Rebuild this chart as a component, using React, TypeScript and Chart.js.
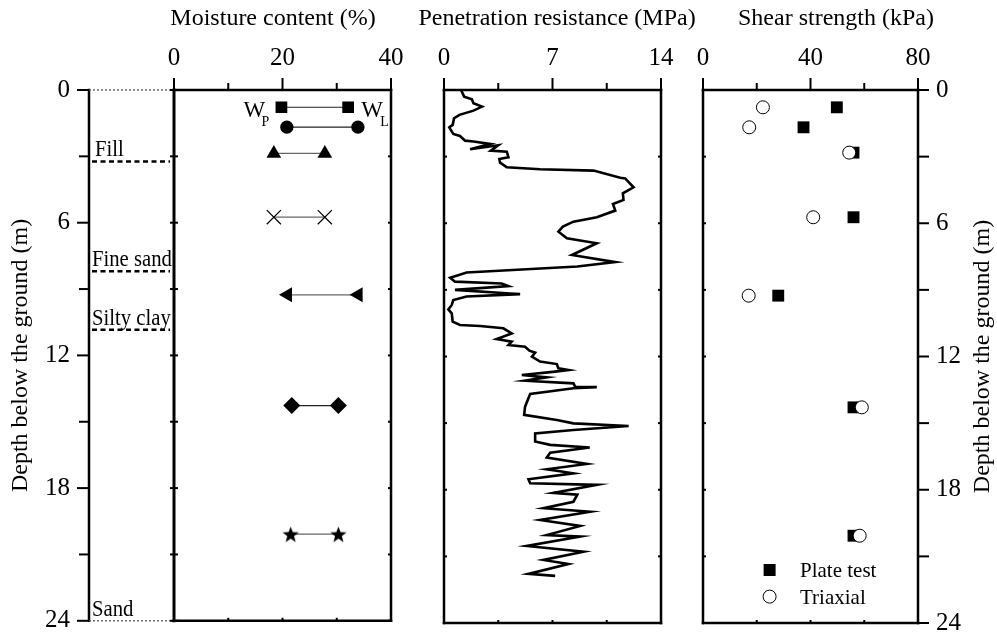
import React, { useEffect, useRef } from 'react';
import { Chart, registerables } from 'chart.js';
Chart.register(...registerables);

const SERIF = "'Liberation Serif', 'Times New Roman', Times, serif";
const W = 997;
const H = 632;

// ---------------- depth axis ----------------
const depthLabels = [0, 6, 12, 18, 24];
const depthMinorTicks = [0, 3, 6, 9, 12, 15, 18, 21, 24];

// ---------------- soil column ----------------
const soilNames = ['Fill', 'Fine sand', 'Silty clay', 'Sand'];
const soilBottoms = [3.23, 8.2, 10.84, 24];

// ---------------- moisture content (%) ----------------
const moistureTicks = [0, 10, 20, 30, 40];
const moistureLabels = [0, 20, 40];
const moistureDepths = [0.78, 1.68, 2.87, 5.75, 9.26, 14.27, 20.08];
const plasticLimit = [19.8, 20.8, 18.4, 18.4, 20.95, 21.7, 21.5];
const liquidLimit = [32.1, 33.9, 27.8, 27.8, 33.97, 30.3, 30.3];

// ---------------- penetration resistance (MPa) ----------------
const penTicks = [0, 3.5, 7, 10.5, 14];
const penLabels = [0, 7, 14];
const penValue = [
  1.1, 1.3, 1.8, 1.9, 2.45, 1.9, 1.0, 0.65, 0.56, 0.34, 0.6, 1.03, 1.36, 1.9, 2.97, 1.68, 3.5, 3.02,
  4.05, 4.16, 3.57, 3.62, 4.05, 6.2, 9.65, 11.37, 11.69, 12.23, 11.54, 11.58, 10.9, 11.05, 9.86, 8.35,
  7.67, 7.38, 7.93, 9.86, 8.25, 11.05, 8.6, 1.46, 0.4, 0.71, 3.72, 4.16, 0.71, 4.26, 4.91, 1.46, 0.6,
  0.5, 0.28, 0.5, 0.56, 1.03, 2.33, 3.83, 4.37, 3.4, 4.37, 4.16, 5.23, 5.51, 5.88, 5.67, 6.2, 7.28,
  7.38, 8.03, 7.17, 5.02, 6.63, 5.23, 8.35, 8.46, 9.86, 8.35, 5.56, 5.23, 5.17, 7.28, 8.35, 11.91,
  8.35, 5.88, 5.88, 6.85, 9.4, 6.85, 6.63, 9.22, 6.63, 8.35, 5.45, 5.56, 9.86, 7.06, 8.6, 8.35, 6.42,
  9.43, 6.2, 8.79, 6.63, 8.79, 5.34, 9.0, 6.42, 8.03, 5.45, 7.17,
];
const penDepth = [
  0, 0.3, 0.42, 0.6, 0.75, 0.93, 1.12, 1.27, 1.57, 1.68, 1.98, 2.07, 2.28, 2.32, 2.43, 2.67, 2.49, 2.73,
  2.78, 3.03, 3.11, 3.27, 3.48, 3.57, 3.63, 3.95, 3.98, 4.38, 4.65, 4.95, 5.13, 5.43, 5.73, 5.93,
  6.15, 6.38, 6.68, 6.9, 7.43, 7.75, 7.95, 8.22, 8.45, 8.63, 8.71, 8.83, 9.0, 9.16, 9.19, 9.3, 9.46,
  9.68, 9.88, 10.06, 10.43, 10.58, 10.63, 10.73, 10.96, 11.21, 11.33, 11.48, 11.56, 11.74, 11.83, 12.01, 12.23, 12.34,
  12.53, 12.61, 12.68, 12.83, 12.94, 13.09, 13.21, 13.36, 13.38, 13.43, 13.69, 14.26, 14.63, 14.86, 15.01, 15.13,
  15.31, 15.46, 15.83, 15.98, 16.1, 16.33, 16.55, 16.84, 17.08, 17.26, 17.53, 17.71, 17.78, 18.14, 18.22, 18.54, 18.83,
  18.99, 19.36, 19.63, 20.04, 20.11, 20.53, 20.79, 21.16, 21.34, 21.79, 21.88,
];

// ---------------- shear strength (kPa) ----------------
const shearTicks = [0, 20, 40, 60, 80];
const shearLabels = [0, 40, 80];
const shearDepths = [0.78, 1.68, 2.82, 5.73, 9.26, 14.29, 20.07];
const plateTest = [49.8, 37.4, 56.0, 56.0, 28.0, 56.0, 56.0];
const triaxial = [22.3, 17.2, 54.4, 41.0, 17.0, 59.1, 58.3];

// ---------------- styles (not data) ----------------
function makeStar(r: number) {
  const c = document.createElement('canvas');
  const s = Math.ceil(r * 2 + 2);
  c.width = s;
  c.height = s;
  const g = c.getContext('2d')!;
  g.fillStyle = '#000';
  g.beginPath();
  for (let i = 0; i < 10; i++) {
    const rr = i % 2 === 0 ? r : r * 0.42;
    const ang = -Math.PI / 2 + (i * Math.PI) / 5;
    const x = s / 2 + rr * Math.cos(ang);
    const y = s / 2 + 1 + rr * Math.sin(ang);
    if (i === 0) g.moveTo(x, y);
    else g.lineTo(x, y);
  }
  g.closePath();
  g.fill();
  return c;
}

function rowStyle(i: number): any {
  switch (i) {
    case 0: return { pointStyle: 'rect', pointRadius: 8.3, line: '#222' };
    case 1: return { pointStyle: 'circle', pointRadius: 6.6, line: '#222' };
    case 2: return { pointStyle: 'triangle', pointRadius: 8.5, line: '#666' };
    case 3: return { pointStyle: 'crossRot', pointRadius: 10, line: '#666', hollow: true };
    case 4: return { pointStyle: 'triangle', pointRadius: 8.7, rotation: -90, line: '#666' };
    case 5: return { pointStyle: 'rectRot', pointRadius: 8.5, line: '#222' };
    default: return { pointStyle: makeStar(8.5), pointRadius: 8.5, line: '#666' };
  }
}

const tickFont = { family: SERIF, size: 25 };

function seg(ctx: CanvasRenderingContext2D, x1: number, y1: number, x2: number, y2: number) {
  ctx.beginPath();
  ctx.moveTo(x1, y1);
  ctx.lineTo(x2, y2);
  ctx.stroke();
}

// frame, ticks and title of one panel
const framePlugin = {
  id: 'frame',
  afterDraw(chart: any, _a: any, o: any) {
    const { ctx, chartArea: a } = chart;
    const xs = chart.scales.x;
    const ys = chart.scales.y;
    ctx.save();
    ctx.strokeStyle = '#000';
    ctx.fillStyle = '#000';
    ctx.lineCap = 'square';
    const solid = o.zeroLine ? xs.getPixelForValue(0) : a.left;
    ctx.lineWidth = 2.5;
    seg(ctx, solid, a.top, a.right, a.top);
    seg(ctx, solid, a.bottom, a.right, a.bottom);
    seg(ctx, a.left, a.top, a.left, a.bottom);
    seg(ctx, a.right, a.top, a.right, a.bottom);
    if (o.zeroLine) {
      ctx.lineWidth = 3;
      seg(ctx, solid, a.top, solid, a.bottom);
      ctx.save();
      ctx.lineCap = 'butt';
      ctx.lineWidth = 1.3;
      ctx.strokeStyle = '#555';
      ctx.setLineDash([2, 2]);
      seg(ctx, a.left, a.top, solid, a.top);
      seg(ctx, a.left, a.bottom, solid, a.bottom);
      ctx.restore();
    }
    ctx.lineCap = 'butt';
    ctx.lineWidth = 2;
    o.xTicks.forEach((v: number, i: number) => {
      const px = xs.getPixelForValue(v);
      const len = o.xMajor.includes(v) ? 12 : 7;
      seg(ctx, px, a.top, px, a.top - len);
      if (i > 0 && i < o.xTicks.length - 1) seg(ctx, px, a.bottom, px, a.bottom - 3);
    });
    depthMinorTicks.forEach((d) => {
      const py = ys.getPixelForValue(d);
      const major = depthLabels.includes(d);
      if (o.yOut === 'left') seg(ctx, a.left, py, a.left - (major ? 12 : 10), py);
      else seg(ctx, a.left, py, a.left + 3, py);
      if (o.yOut === 'right') seg(ctx, a.right, py, a.right + 11, py);
      else seg(ctx, a.right, py, a.right - 3, py);
      if (o.zeroLine) seg(ctx, solid - 4, py, solid + 4, py);
    });
    ctx.font = `24px ${SERIF}`;
    ctx.textAlign = 'center';
    ctx.textBaseline = 'middle';
    ctx.fillText(o.title, o.titleX, 19);
    ctx.restore();
  },
};

const soilPlugin = {
  id: 'soil',
  afterDraw(chart: any) {
    const { ctx, chartArea: a } = chart;
    const xs = chart.scales.x;
    const ys = chart.scales.y;
    const zx = xs.getPixelForValue(0);
    ctx.save();
    ctx.fillStyle = '#000';
    ctx.strokeStyle = '#000';
    soilNames.forEach((name, i) => {
      const py = ys.getPixelForValue(soilBottoms[i]);
      if (i < soilNames.length - 1) {
        ctx.save();
        ctx.lineWidth = 2.5;
        ctx.setLineDash([5, 3.5]);
        seg(ctx, a.left + 3, py, zx - 4, py);
        ctx.restore();
      }
      ctx.save();
      ctx.font = `23px ${SERIF}`;
      ctx.textAlign = 'left';
      ctx.textBaseline = 'alphabetic';
      ctx.translate(a.left + (i === 0 ? 6 : 3), py - 5);
      ctx.scale(0.9, 1);
      ctx.fillText(name, 0, 0);
      ctx.restore();
    });
    // W_P and W_L labels next to the first row
    const py = ys.getPixelForValue(moistureDepths[0]);
    const pP = xs.getPixelForValue(plasticLimit[0]);
    const pL = xs.getPixelForValue(liquidLimit[0]);
    ctx.textAlign = 'left';
    ctx.textBaseline = 'alphabetic';
    ctx.font = `23px ${SERIF}`;
    ctx.fillText('W', pP - 38, py + 9.4);
    ctx.fillText('W', pL + 13, py + 9.4);
    ctx.font = `14px ${SERIF}`;
    ctx.fillText('P', pP - 20, py + 18.4);
    ctx.fillText('L', pL + 32, py + 18.4);
    ctx.restore();
  },
};

const shearExtras = {
  id: 'shearExtras',
  afterDraw(chart: any) {
    const { ctx, chartArea: a } = chart;
    ctx.save();
    ctx.fillStyle = '#000';
    ctx.strokeStyle = '#000';
    const mx = a.left + 66.6;
    const y1 = a.bottom - 53;
    const y2 = a.bottom - 26.4;
    ctx.fillRect(mx - 6, y1 - 6, 12, 12);
    ctx.lineWidth = 1;
    ctx.beginPath();
    ctx.arc(mx, y2, 6.5, 0, Math.PI * 2);
    ctx.stroke();
    ctx.font = `21px ${SERIF}`;
    ctx.textAlign = 'left';
    ctx.textBaseline = 'alphabetic';
    ctx.fillText('Plate test', a.left + 97, y1 + 7);
    ctx.fillText('Triaxial', a.left + 97, y2 + 7);
    // right axis title (reads bottom to top)
    ctx.save();
    ctx.translate(983, (a.top + a.bottom) / 2);
    ctx.rotate(-Math.PI / 2);
    ctx.font = `24px ${SERIF}`;
    ctx.textAlign = 'center';
    ctx.textBaseline = 'middle';
    ctx.fillText('Depth below the ground (m)', 0, 0);
    ctx.restore();
    ctx.restore();
  },
};

function xAxis(min: number, max: number, ticks: number[], labels: number[]) {
  return {
    type: 'linear',
    position: 'top',
    min,
    max,
    afterBuildTicks: (s: any) => {
      s.ticks = ticks.map((v) => ({ value: v }));
    },
    afterFit: (s: any) => {
      s.height = 90;
      s.paddingLeft = 0;
      s.paddingRight = 0;
    },
    grid: { display: false, drawTicks: false },
    border: { display: false },
    ticks: {
      font: tickFont,
      color: '#000',
      padding: 17,
      maxRotation: 0,
      autoSkip: false,
      callback: (v: any) => (labels.includes(Number(v)) ? String(v) : ''),
    },
  };
}

function depthAxis(extra: any) {
  return {
    type: 'linear',
    reverse: true,
    min: 0,
    max: 24,
    grid: { display: false, drawTicks: false },
    border: { display: false },
    ...extra,
  };
}

const baseOptions = (padding: any) => ({
  animation: false,
  responsive: false,
  maintainAspectRatio: false,
  events: [],
  layout: { padding },
  plugins: { legend: { display: false }, tooltip: { enabled: false } },
});

function fitDepth(width: number) {
  return (s: any) => {
    s.width = width;
    s.paddingTop = 0;
    s.paddingBottom = 0;
  };
}

function moistureConfig(): any {
  const datasets = moistureDepths.map((d, i) => {
    const st = rowStyle(i);
    return {
      data: [
        { x: plasticLimit[i], y: d },
        { x: liquidLimit[i], y: d },
      ],
      showLine: true,
      borderColor: st.line,
      borderWidth: 1.2,
      pointStyle: st.pointStyle,
      pointRadius: st.pointRadius,
      pointRotation: st.rotation || 0,
      pointBackgroundColor: st.hollow ? 'rgba(0,0,0,0)' : '#000',
      pointBorderColor: '#000',
      pointBorderWidth: st.hollow ? 1.2 : 0,
    };
  });
  const o: any = baseOptions({ left: 0, right: W - 391, top: 0, bottom: H - 623 });
  o.scales = {
    x: xAxis(-15.67, 40, moistureTicks, moistureLabels),
    y: depthAxis({
      position: 'left',
      afterFit: fitDepth(89),
      afterBuildTicks: (s: any) => {
        s.ticks = depthLabels.map((v) => ({ value: v }));
      },
      ticks: { font: tickFont, color: '#000', padding: 19 },
      title: {
        display: true,
        text: 'Depth below the ground (m)',
        color: '#000',
        font: { family: SERIF, size: 24 },
        padding: { top: 6, bottom: 0 },
      },
    }),
  };
  o.plugins.frame = {
    xTicks: moistureTicks,
    xMajor: moistureLabels,
    yOut: 'left',
    zeroLine: true,
    title: 'Moisture content (%)',
    titleX: 273,
  };
  return { type: 'scatter', data: { datasets }, options: o, plugins: [framePlugin, soilPlugin] };
}

function penetrationConfig(): any {
  const o: any = baseOptions({ left: 444, right: W - 661, top: 0, bottom: H - 623 });
  o.scales = {
    x: xAxis(0, 14, penTicks, penLabels),
    y: depthAxis({ display: false }),
  };
  o.plugins.frame = {
    xTicks: penTicks,
    xMajor: penLabels,
    yOut: 'none',
    title: 'Penetration resistance (MPa)',
    titleX: 557,
  };
  return {
    type: 'scatter',
    data: {
      datasets: [
        {
          data: penValue.map((v, i) => ({ x: v, y: penDepth[i] })),
          showLine: true,
          borderColor: '#000',
          borderWidth: 2.6,
          pointRadius: 0,
          tension: 0,
        },
      ],
    },
    options: o,
    plugins: [framePlugin],
  };
}

function shearConfig(): any {
  const o: any = baseOptions({ left: 703, right: 0, top: 0, bottom: H - 623 });
  o.scales = {
    x: xAxis(0, 80, shearTicks, shearLabels),
    y: depthAxis({
      position: 'right',
      afterFit: fitDepth(W - 918),
      afterBuildTicks: (s: any) => {
        s.ticks = depthLabels.map((v) => ({ value: v }));
      },
      ticks: { font: tickFont, color: '#000', padding: 18 },
    }),
  };
  o.plugins.frame = {
    xTicks: shearTicks,
    xMajor: shearLabels,
    yOut: 'right',
    title: 'Shear strength (kPa)',
    titleX: 836,
  };
  return {
    type: 'scatter',
    data: {
      datasets: [
        {
          label: 'Triaxial',
          data: triaxial.map((v, i) => ({ x: v, y: shearDepths[i] })),
          pointStyle: 'circle',
          pointRadius: 6.5,
          pointBackgroundColor: '#fff',
          pointBorderColor: '#000',
          pointBorderWidth: 1,
        },
        {
          label: 'Plate test',
          data: plateTest.map((v, i) => ({ x: v, y: shearDepths[i] })),
          pointStyle: 'rect',
          pointRadius: 8.4,
          pointBackgroundColor: '#000',
          pointBorderWidth: 0,
        },
      ],
    },
    options: o,
    plugins: [framePlugin, shearExtras],
  };
}

function Panel({ make }: { make: () => any }) {
  const ref = useRef<HTMLCanvasElement | null>(null);
  useEffect(() => {
    if (!ref.current) return;
    const chart = new Chart(ref.current, make());
    return () => chart.destroy();
  }, [make]);
  return (
    <canvas
      ref={ref}
      width={W}
      height={H}
      style={{ position: 'absolute', left: 0, top: 0, width: W, height: H }}
    />
  );
}

export default function App() {
  return (
    <div style={{ position: 'absolute', left: 0, top: 0, width: W, height: H, background: '#fff' }}>
      <Panel make={moistureConfig} />
      <Panel make={penetrationConfig} />
      <Panel make={shearConfig} />
    </div>
  );
}
